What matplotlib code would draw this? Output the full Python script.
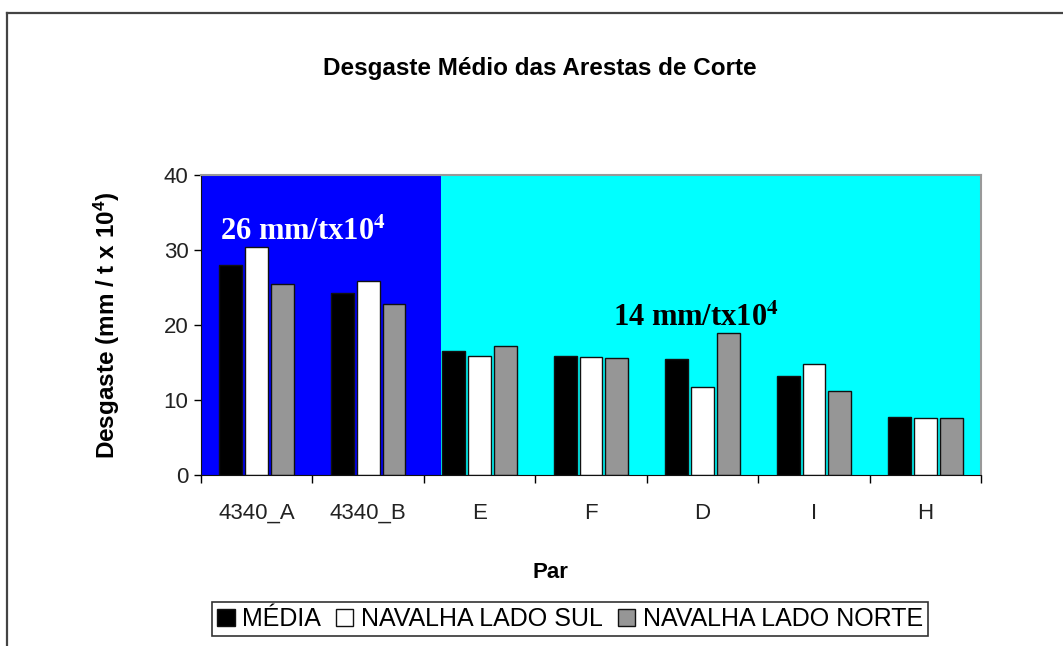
import numpy as np
import matplotlib
matplotlib.use("Agg")
import matplotlib.pyplot as plt
from matplotlib.lines import Line2D
from matplotlib.patches import Rectangle

plt.rcParams['font.family'] = ['Liberation Sans', 'DejaVu Sans']
plt.rcParams['mathtext.fontset'] = 'custom'
plt.rcParams['mathtext.rm'] = 'Liberation Sans:bold'
plt.rcParams['mathtext.default'] = 'rm'

# Wear per cutting edge pair
pares = ['4340_A', '4340_B', 'E', 'F', 'D', 'I', 'H']
media = [28.0, 24.3, 16.5, 15.9, 15.5, 13.2, 7.7]
lado_sul = [30.4, 25.9, 15.9, 15.8, 11.8, 14.8, 7.6]
lado_norte = [25.5, 22.8, 17.2, 15.6, 18.9, 11.2, 7.6]
series = [('MÉDIA', media, 'black'),
          ('NAVALHA LADO SUL', lado_sul, 'white'),
          ('NAVALHA LADO NORTE', lado_norte, '#969696')]

fig = plt.figure(figsize=(10.63, 6.46), dpi=100)
ax = fig.add_axes([0.189, 0.2647, 0.734, 0.4644])

x = np.arange(len(pares))
ax.set_xlim(-0.5, len(pares) - 0.5)
ax.set_ylim(0, 40)

# background zones: 4340 steels vs the others
ax.add_patch(Rectangle((-0.5, 0), 2.15, 40, facecolor='#0000FF', edgecolor='none', zorder=0))
ax.add_patch(Rectangle((1.65, 0), 4.85, 40, facecolor='#00FFFF', edgecolor='none', zorder=0))

step = 0.232
width = 0.205
for i, (nome, vals, cor) in enumerate(series):
    ax.bar(x + (i - 1) * step, vals, width, color=cor, edgecolor='#111111',
           linewidth=1.0, label=nome, zorder=2)

# ticks
ax.set_yticks([0, 10, 20, 30, 40])
ax.tick_params(axis='y', direction='out', length=5, width=1, labelsize=16,
               labelcolor='#222222', pad=4)
ax.set_xticks(x)
ax.set_xticklabels(pares)
ax.set_xticks(np.arange(-0.5, len(pares)), minor=True)
ax.tick_params(axis='x', which='major', length=0, labelsize=16, labelcolor='#222222', pad=20)
ax.tick_params(axis='x', which='minor', direction='out', length=6, width=1)

for s in ['left', 'bottom']:
    ax.spines[s].set_color('#111111')
for s in ['top', 'right']:
    ax.spines[s].set_color('#999999')
    ax.spines[s].set_linewidth(1.5)

ax.set_ylabel(r'Desgaste (mm / t x 10$^4$)', fontsize=17.5, fontweight='bold')
ax.yaxis.set_label_coords((107 - 201) / 780, 0.5)
ax.set_xlabel('Par', fontsize=16, fontweight='bold')
ax.xaxis.set_label_coords((550 - 201) / 780, (475 - 572) / 300)
ax.xaxis.label.set_va('center')
ax.yaxis.label.set_va('center')

# zone averages
ax.text(-0.33, 32.4, r'26 mm/tx10$^\mathbf{4}$', color='white', fontsize=22,
        fontweight='bold', family='Liberation Serif', math_fontfamily='stix',
        va='center', ha='left', zorder=3)
ax.text(3.2, 20.9, r'14 mm/tx10$^\mathbf{4}$', color='black', fontsize=22,
        fontweight='bold', family='Liberation Serif', math_fontfamily='stix',
        va='center', ha='left', zorder=3)

fig.text(540 / 1063, 1 - 68 / 646, 'Desgaste Médio das Arestas de Corte',
         ha='center', va='center', fontsize=17.5, fontweight='bold')

leg = fig.legend(loc='center', bbox_to_anchor=(570 / 1063, 1 - 619 / 646), ncol=3,
                 fontsize=18, frameon=True, fancybox=False, handlelength=0.7,
                 handleheight=0.7, handletextpad=0.3, columnspacing=0.6,
                 borderpad=0.2, borderaxespad=0, edgecolor='black')
leg.get_frame().set_linewidth(1.2)

# chart area frame
fig.add_artist(Line2D([7 / 1063, 7 / 1063], [0, 1 - 13 / 646], transform=fig.transFigure,
                      color='#444444', linewidth=1.6))
fig.add_artist(Line2D([7 / 1063, 1], [1 - 13 / 646, 1 - 13 / 646], transform=fig.transFigure,
                      color='#444444', linewidth=1.6))

fig.savefig('out.png', dpi=100)
